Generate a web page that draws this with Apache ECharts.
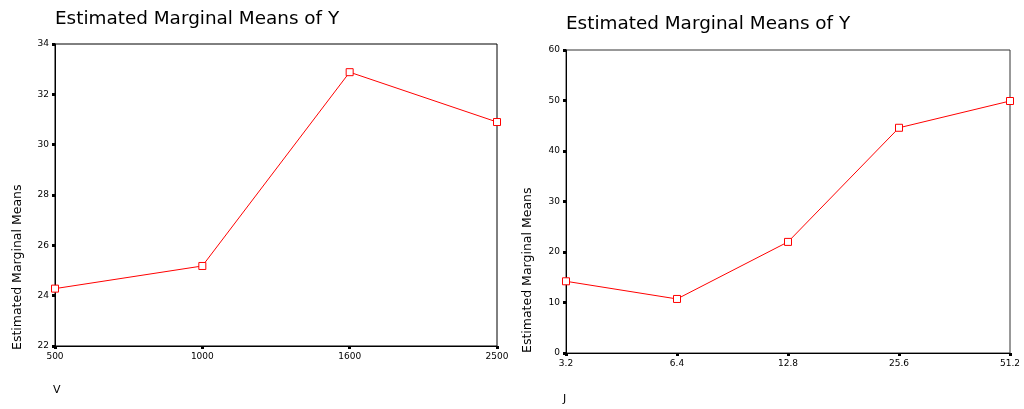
<!DOCTYPE html>
<html>
<head>
<meta charset="utf-8">
<script src="https://cdn.jsdelivr.net/npm/echarts@6/dist/echarts.min.js"></script>
<style>
  html, body { margin: 0; padding: 0; background: #fff; }
  #chart { width: 1024px; height: 409px; }
</style>
</head>
<body>
<div id="chart"></div>
<script>
// Estimated marginal means of Y across levels of V and of J
const vLevels = ['500', '1000', '1600', '2500'];
const vMeans = [24.28, 25.18, 32.88, 30.9];

const jLevels = ['3.2', '6.4', '12.8', '25.6', '51.2'];
const jMeans = [14.2, 10.7, 22.0, 44.6, 49.9];

const titleText = 'Estimated Marginal Means of Y';
const yName = 'Estimated Marginal Means';

const chart = echarts.init(document.getElementById('chart'));

const tickLabel = { fontFamily: 'DejaVu Sans', fontSize: 9, color: '#000' };

function xAxisFor(gridIndex, data) {
  return {
    type: 'category', gridIndex, data, boundaryGap: false,
    axisLine: { lineStyle: { color: '#000', width: 1 } },
    axisTick: { show: true, length: 3, lineStyle: { color: '#000', width: 3 } },
    axisLabel: Object.assign({ margin: 6 }, tickLabel),
    splitLine: { show: false }
  };
}
function yAxisFor(gridIndex, min, max, interval) {
  return {
    type: 'value', gridIndex, min, max, interval,
    axisLine: { show: true, lineStyle: { color: '#000', width: 1 } },
    axisTick: { show: true, length: 3, lineStyle: { color: '#000', width: 3 } },
    axisLabel: Object.assign({ margin: 6 }, tickLabel),
    splitLine: { show: false }
  };
}
function seriesFor(idx, data) {
  return {
    type: 'line', xAxisIndex: idx, yAxisIndex: idx, data,
    symbol: 'rect', symbolSize: 7, showSymbol: true,
    lineStyle: { color: '#ff0000', width: 1 },
    itemStyle: { color: '#ffffff', borderColor: '#ff0000', borderWidth: 1 },
    animation: false
  };
}

const titleStyle = { fontFamily: 'DejaVu Sans', fontSize: 18.4, fontWeight: 'normal', color: '#000' };

chart.setOption({
  animation: false,
  title: [
    { text: titleText, left: 50, top: 5, textStyle: titleStyle },
    { text: titleText, left: 561, top: 10, textStyle: titleStyle }
  ],
  grid: [
    { left: 55, top: 44, width: 442, height: 302, show: true, borderColor: '#000', borderWidth: 1, backgroundColor: 'transparent' },
    { left: 566, top: 50, width: 444, height: 303, show: true, borderColor: '#333', borderWidth: 1, backgroundColor: 'transparent' }
  ],
  xAxis: [xAxisFor(0, vLevels), xAxisFor(1, jLevels)],
  yAxis: [yAxisFor(0, 22, 34, 2), yAxisFor(1, 0, 60, 10)],
  series: [seriesFor(0, vMeans), seriesFor(1, jMeans)],
  graphic: [
    { type: 'text', x: 11, y: 350, rotation: Math.PI / 2,
      style: { text: yName, fontFamily: 'DejaVu Sans', fontSize: 12.5, fill: '#000' } },
    { type: 'text', x: 521, y: 353, rotation: Math.PI / 2,
      style: { text: yName, fontFamily: 'DejaVu Sans', fontSize: 12.5, fill: '#000' } },
    { type: 'text', x: 53, y: 385,
      style: { text: 'V', fontFamily: 'DejaVu Sans', fontSize: 11, fill: '#000' } },
    { type: 'text', x: 563, y: 394,
      style: { text: 'J', fontFamily: 'DejaVu Sans', fontSize: 11, fill: '#000' } }
  ]
});
</script>
</body>
</html>
